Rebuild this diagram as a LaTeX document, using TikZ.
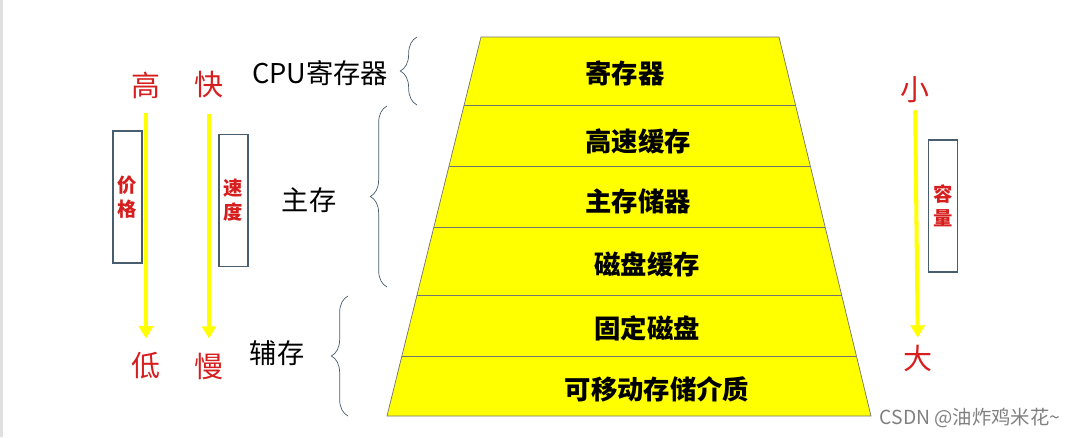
\documentclass[tikz,border=0pt]{standalone}
\usepackage{fontspec}
\setmainfont{Noto Sans CJK SC}
\usetikzlibrary{arrows.meta, decorations.pathreplacing}
\definecolor{layeryellow}{RGB}{255,255,0}
\definecolor{slateframe}{RGB}{72,94,110}
\definecolor{hintred}{RGB}{215,30,30}
\tikzset{
  layer/.style={fill=layeryellow, draw=black!55, thin},
  divider/.style={draw=black!55, thin},
  layertext/.style={font=\fontsize{15}{18}\selectfont\bfseries, inner sep=0pt},
  levellabel/.style={font=\fontsize{15.5}{18}\selectfont, inner sep=0pt},
  endword/.style={font=\fontsize{16.5}{19}\selectfont, text=hintred, inner sep=1pt},
  tagbox/.style={draw=slateframe, thick, minimum width=0.58cm, minimum height=2.64cm, inner sep=0pt, align=center, font=\fontsize{11}{13.5}\selectfont\bfseries, text=hintred},
  trend/.style={-{Triangle[width=8pt,length=7pt]}, line width=2.3pt, draw=layeryellow},
  bracket/.style={decorate, decoration={brace, amplitude=9.5pt}, draw=slateframe, thin}
}

\begin{document}
\begin{tikzpicture}[x=0.02cm, y=-0.02cm]

\useasboundingbox (0,0) rectangle (1080,437);
\fill[gray!25] (0,0) rectangle (3,437);

% pyramid
\draw[layer] (481,37) -- (779,37) -- (871,416) -- (387,416) -- cycle;
\draw[divider] (464.1,105) -- (795.5,105);
\draw[divider] (449.0,166) -- (810.3,166);
\draw[divider] (433.9,227) -- (825.1,227);
\draw[divider] (417.0,295) -- (841.6,295);
\draw[divider] (401.9,356) -- (856.4,356);

\node[layertext] (reg) at (625,73) {寄存器};
\node[layertext] (cache) at (638,141) {高速缓存};
\node[layertext] (mainmem) at (638,201) {主存储器};
\node[layertext] (diskcache) at (647,264) {磁盘缓存};
\node[layertext] (fixeddisk) at (647,328) {固定磁盘};
\node[layertext] (removable) at (657,389) {可移动存储介质};

% braces and their labels
\draw[bracket] (417,105) -- (417,37);
\draw[bracket] (387,287) -- (387,106);
\draw[bracket] (348,416) -- (348,296);

\node[levellabel] (cpulabel) at (320,73) {CPU寄存器};
\node[levellabel] (mainlabel) at (309,200) {主存};
\node[levellabel] (auxlabel) at (277,353) {辅存};

% price and speed
\node[endword] (high) at (146,85) {高};
\node[endword] (low) at (146,366) {低};
\node[endword] (fast) at (209,85) {快};
\node[endword] (slow) at (209,366) {慢};
\draw[trend, shorten <=0.26cm, shorten >=0.24cm] (high) -- (low);
\draw[trend, shorten <=0.26cm, shorten >=0.24cm] (fast) -- (slow);

\node[tagbox] (price) at (127.5,197) {价\\格};
\node[tagbox] (speed) at (233.5,200.5) {速\\度};

% capacity
\node[endword] (small) at (915,90) {小};
\node[endword] (large) at (918,358) {大};
\draw[trend, shorten <=0.1cm, shorten >=0.1cm] (small) -- (large);

\node[tagbox] (capacity) at (943,206) {容\\量};

\node[font=\fontsize{11}{13}\selectfont, text=gray, inner sep=0pt] (mark) at (970,418) {CSDN @油炸鸡米花\textasciitilde};

\end{tikzpicture}
\end{document}
